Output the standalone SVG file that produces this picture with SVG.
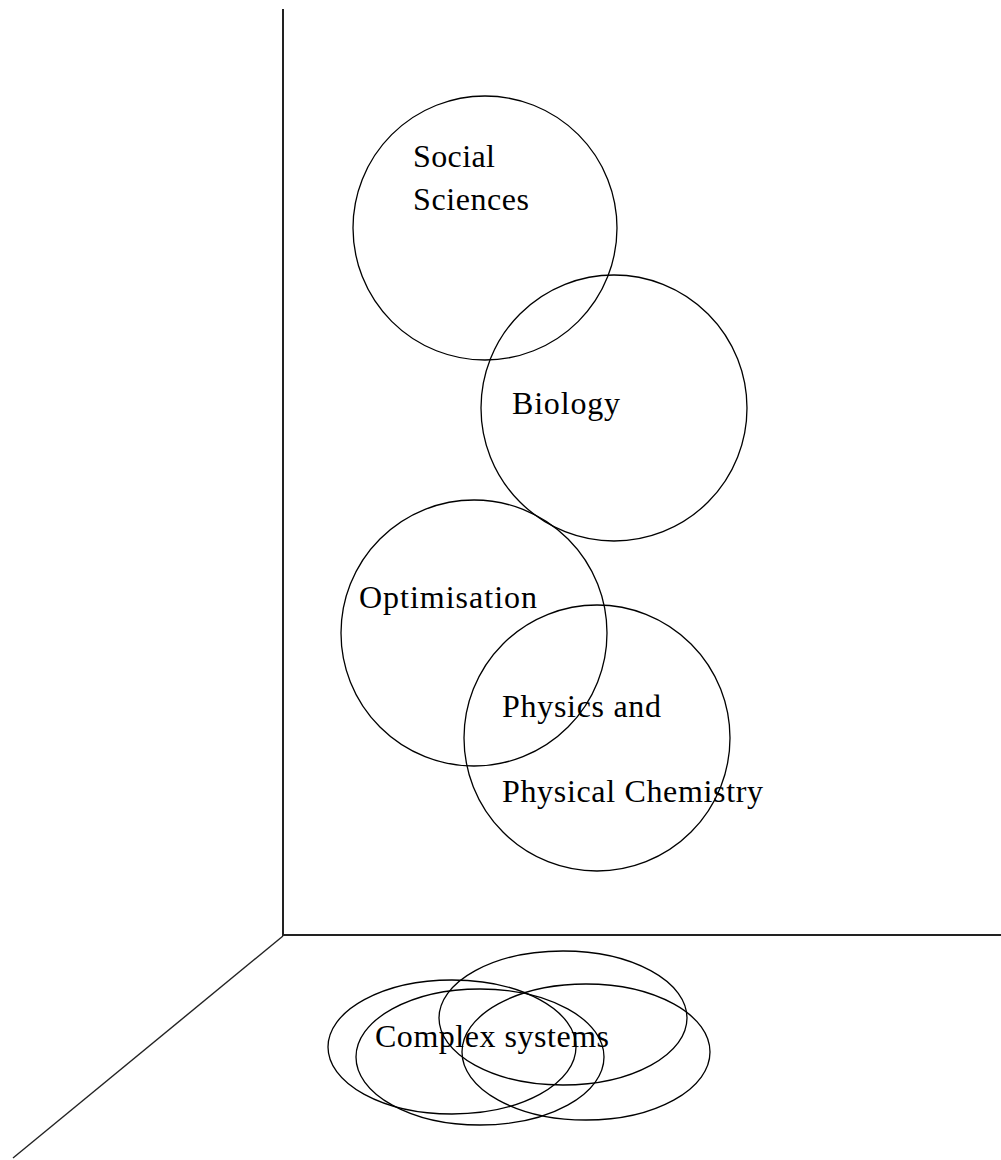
<svg xmlns="http://www.w3.org/2000/svg" width="1001" height="1160" viewBox="0 0 1001 1160">
<style>
.c{fill:none;stroke:#000;stroke-width:1.3}
.ax{fill:none;stroke:#222;stroke-width:2}
.t{font-family:"Liberation Serif","Times New Roman",serif;font-size:32px;fill:#000}
</style>
<rect width="1001" height="1160" fill="#fff"/>
<g id="axes">
<line class="ax" x1="283" y1="9" x2="283" y2="936"/>
<line class="ax" x1="283" y1="935" x2="1001" y2="935"/>
<line class="ax" x1="283" y1="936" x2="13" y2="1158" style="stroke-width:1.4"/>
</g>
<g id="social-sciences">
<circle class="c" cx="485" cy="228" r="132"/>
<text class="t" x="413" y="167" textLength="82">Social</text>
<text class="t" x="413" y="210" textLength="116">Sciences</text>
</g>
<g id="biology">
<circle class="c" cx="614" cy="408" r="133"/>
<text class="t" x="512" y="414" textLength="108">Biology</text>
</g>
<g id="optimisation">
<circle class="c" cx="474" cy="633" r="133"/>
<text class="t" x="359" y="608" textLength="178">Optimisation</text>
</g>
<g id="physics">
<circle class="c" cx="597" cy="738" r="133"/>
<text class="t" x="502" y="717" textLength="159">Physics and</text>
<text class="t" x="502" y="802" textLength="261">Physical Chemistry</text>
</g>
<g id="complex-systems">
<ellipse class="c" cx="452" cy="1047" rx="124" ry="67"/>
<ellipse class="c" cx="480" cy="1057" rx="124" ry="68"/>
<ellipse class="c" cx="563" cy="1018" rx="124" ry="67"/>
<ellipse class="c" cx="586" cy="1052" rx="124" ry="68"/>
<text class="t" x="375" y="1047" textLength="234">Complex systems</text>
</g>
</svg>
